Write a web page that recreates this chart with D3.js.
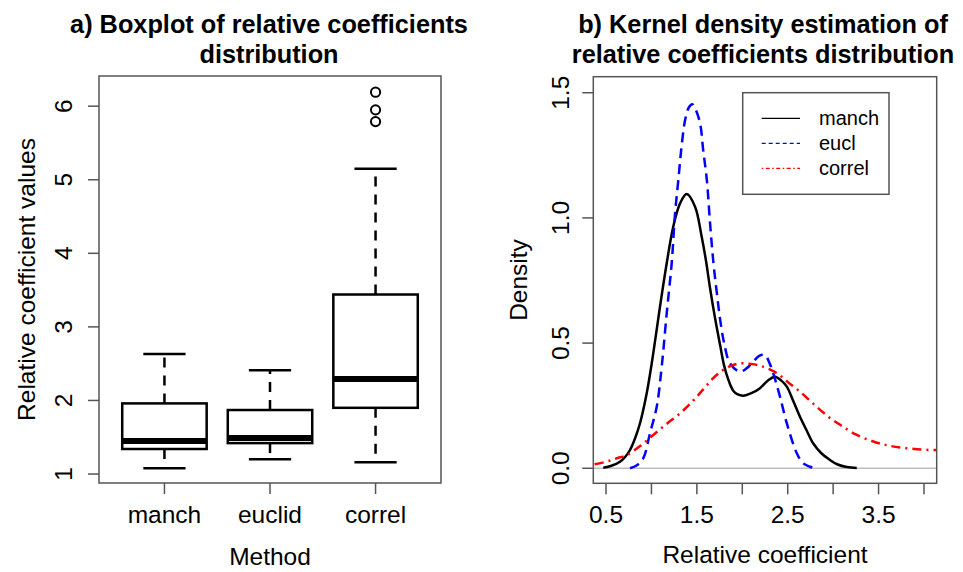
<!DOCTYPE html>
<html><head><meta charset="utf-8">
<script src="https://cdn.jsdelivr.net/npm/d3@7"></script>
<style>body{margin:0;background:#fff}text{font-family:"Liberation Sans",Arial,sans-serif;fill:#000}</style>
</head><body><svg id="c" width="963" height="572"></svg>
<script>
// ---- Panel a data (boxplot stats) ----
const methods = ["manch", "euclid", "correl"];
const lowerWhisker = [1.08, 1.20, 1.16];
const q1 = [1.34, 1.42, 1.90];
const medians = [1.45, 1.49, 2.29];
const q3 = [1.96, 1.87, 3.44];
const upperWhisker = [2.63, 2.41, 5.15];
const outlierMethod = ["correl", "correl", "correl"];
const outlierValue = [6.19, 5.95, 5.79];
const boxYTicks = [1, 2, 3, 4, 5, 6];

// ---- Panel b data (density curves) ----
const densityNames = ["manch", "eucl", "correl"];
const manchX = [0.47,0.56,0.654,0.71,0.764,0.82,0.874,0.948,1.02,1.094,1.168,1.24,1.315,1.388,1.48,1.553,1.60,1.645,1.70,1.757,1.80,1.85,1.90,1.95,2.01,2.10,2.195,2.28,2.36,2.43,2.49,2.56,2.635,2.71,2.78,2.87,2.966,3.05,3.15,3.26];
const manchY = [0.002,0.01,0.026,0.045,0.073,0.12,0.18,0.30,0.459,0.645,0.819,0.965,1.058,1.095,1.045,0.925,0.83,0.72,0.60,0.49,0.41,0.35,0.31,0.295,0.29,0.30,0.32,0.35,0.366,0.35,0.326,0.27,0.206,0.15,0.10,0.06,0.033,0.015,0.005,0.001];
const euclX = [0.764,0.84,0.91,0.984,1.058,1.113,1.168,1.223,1.26,1.296,1.33,1.37,1.41,1.45,1.49,1.536,1.57,1.61,1.645,1.683,1.72,1.757,1.80,1.865,1.975,2.05,2.12,2.19,2.25,2.30,2.34,2.415,2.49,2.60,2.67,2.745,2.80];
const euclY = [0.0,0.012,0.04,0.14,0.246,0.406,0.619,0.819,1.018,1.151,1.28,1.39,1.44,1.454,1.43,1.377,1.27,1.151,0.98,0.818,0.70,0.592,0.50,0.419,0.386,0.40,0.426,0.45,0.452,0.42,0.38,0.286,0.18,0.06,0.02,0.006,0.0];
const correlX = [0.30,0.36,0.50,0.62,0.73,0.88,1.02,1.17,1.316,1.46,1.57,1.68,1.79,1.88,1.975,2.07,2.16,2.27,2.38,2.50,2.635,2.79,2.947,3.08,3.25,3.45,3.62,3.81,4.00,4.146,4.25];
const correlY = [0.012,0.015,0.026,0.040,0.053,0.09,0.133,0.178,0.22,0.27,0.315,0.36,0.393,0.41,0.419,0.418,0.413,0.40,0.38,0.345,0.306,0.255,0.206,0.173,0.135,0.106,0.09,0.08,0.074,0.073,0.073];
const densXTicks = [0.5,1.0,1.5,2.0,2.5,3.0,3.5,4.0];
const densXLabels = [0.5,1.5,2.5,3.5];
const densYTicks = [0, 0.5, 1.0, 1.5];

const svg = d3.select("#c");
const frameCol = "#555";
const fs = 24.5;

// ================= Panel a =================
const A = {l:99, r:441, t:76, b:483};
const xa = d3.scalePoint().domain(methods).range([A.l, A.r]).padding(0.62);
const ya = d3.scaleLinear().domain([0.878, 6.41]).range([A.b, A.t]);
const step = xa.step();
const ga = svg.append("g");

methods.forEach((m, i) => {
  const cx = xa(m), hw = step*0.4, cw = step*0.2;
  ga.append("line").attr("x1",cx).attr("x2",cx).attr("y1",ya(q3[i])).attr("y2",ya(upperWhisker[i]))
    .attr("stroke","#000").attr("stroke-width",2.5).attr("stroke-dasharray","10,8");
  ga.append("line").attr("x1",cx).attr("x2",cx).attr("y1",ya(q1[i])).attr("y2",ya(lowerWhisker[i]))
    .attr("stroke","#000").attr("stroke-width",2.5).attr("stroke-dasharray","10,8");
  [upperWhisker[i], lowerWhisker[i]].forEach(v => {
    ga.append("line").attr("x1",cx-cw).attr("x2",cx+cw).attr("y1",ya(v)).attr("y2",ya(v))
      .attr("stroke","#000").attr("stroke-width",2.5);
  });
  ga.append("rect").attr("x",cx-hw).attr("width",2*hw).attr("y",ya(q3[i])).attr("height",ya(q1[i])-ya(q3[i]))
    .attr("fill","#fff").attr("stroke","#000").attr("stroke-width",2.5);
  ga.append("line").attr("x1",cx-hw).attr("x2",cx+hw).attr("y1",ya(medians[i])).attr("y2",ya(medians[i]))
    .attr("stroke","#000").attr("stroke-width",6);
});
outlierValue.forEach((v, j) => {
  ga.append("circle").attr("cx", xa(outlierMethod[j])).attr("cy", ya(v)).attr("r", 4.6)
    .attr("fill","none").attr("stroke","#000").attr("stroke-width",2);
});
ga.append("rect").attr("x",A.l).attr("y",A.t).attr("width",A.r-A.l).attr("height",A.b-A.t)
  .attr("fill","none").attr("stroke",frameCol).attr("stroke-width",1.5);
boxYTicks.forEach(t => {
  ga.append("line").attr("x1",A.l-11).attr("x2",A.l).attr("y1",ya(t)).attr("y2",ya(t)).attr("stroke",frameCol).attr("stroke-width",1.5);
  ga.append("text").attr("transform",`translate(72,${ya(t)}) rotate(-90)`).attr("text-anchor","middle")
    .attr("font-size",fs).text(t);
});
methods.forEach(m => {
  ga.append("line").attr("x1",xa(m)).attr("x2",xa(m)).attr("y1",A.b).attr("y2",A.b+11).attr("stroke",frameCol).attr("stroke-width",1.5);
  ga.append("text").attr("x",xa(m)).attr("y",523).attr("text-anchor","middle").attr("font-size",fs).text(m);
});
ga.append("text").attr("x",(A.l+A.r)/2).attr("y",565).attr("text-anchor","middle").attr("font-size",fs).text("Method");
ga.append("text").attr("transform",`translate(35,${(A.t+A.b)/2}) rotate(-90)`).attr("text-anchor","middle")
  .attr("font-size",fs).text("Relative coefficient values");
ga.append("text").attr("x",269).attr("y",33).attr("text-anchor","middle").attr("font-size",25.3).attr("font-weight","bold").text("a) Boxplot of relative coefficients");
ga.append("text").attr("x",269).attr("y",63).attr("text-anchor","middle").attr("font-size",25.3).attr("font-weight","bold").text("distribution");

// ================= Panel b =================
const B = {l:593.3, r:936.7, t:76.7, b:483.3};
const xb = d3.scaleLinear().domain([0.36, 4.14]).range([B.l, B.r]);
const yb = d3.scaleLinear().domain([-0.06, 1.564]).range([B.b, B.t]);
const gb = svg.append("g");
svg.append("defs").append("clipPath").attr("id","clipb").append("rect")
  .attr("x",B.l).attr("y",B.t).attr("width",B.r-B.l).attr("height",B.b-B.t);

gb.append("line").attr("x1",B.l).attr("x2",B.r).attr("y1",yb(0)).attr("y2",yb(0)).attr("stroke","#bebebe").attr("stroke-width",1.5);

const line = d3.line().x(d=>xb(d[0])).y(d=>yb(d[1])).curve(d3.curveCatmullRom.alpha(0.5));
const series = [
  {name:"manch", xs:manchX, ys:manchY, color:"#000", dash:null, ldash:null},
  {name:"eucl", xs:euclX, ys:euclY, color:"#0000ff", dash:"10,6", ldash:"4,3"},
  {name:"correl", xs:correlX, ys:correlY, color:"#ff0000", dash:"2,5,9,5", ldash:"1.5,2.5,4,2.5"}
];
const lc = gb.append("g").attr("clip-path","url(#clipb)");
series.forEach(s => {
  lc.append("path").attr("d", line(s.xs.map((x,i)=>[x, s.ys[i]])))
    .attr("fill","none").attr("stroke",s.color).attr("stroke-width",2.5)
    .attr("stroke-dasharray", s.dash);
});
gb.append("rect").attr("x",B.l).attr("y",B.t).attr("width",B.r-B.l).attr("height",B.b-B.t)
  .attr("fill","none").attr("stroke",frameCol).attr("stroke-width",1.5);
densXTicks.forEach(t => {
  gb.append("line").attr("x1",xb(t)).attr("x2",xb(t)).attr("y1",B.b).attr("y2",B.b+11).attr("stroke",frameCol).attr("stroke-width",1.5);
});
densXLabels.forEach(t => {
  gb.append("text").attr("x",xb(t)).attr("y",523).attr("text-anchor","middle").attr("font-size",fs).text(d3.format(".1f")(t));
});
densYTicks.forEach(t => {
  gb.append("line").attr("x1",B.l-11).attr("x2",B.l).attr("y1",yb(t)).attr("y2",yb(t)).attr("stroke",frameCol).attr("stroke-width",1.5);
  gb.append("text").attr("transform",`translate(569,${yb(t)}) rotate(-90)`).attr("text-anchor","middle")
    .attr("font-size",fs).text(d3.format(".1f")(t));
});
gb.append("text").attr("x",(B.l+B.r)/2).attr("y",563).attr("text-anchor","middle").attr("font-size",fs).text("Relative coefficient");
gb.append("text").attr("transform",`translate(527,${(B.t+B.b)/2}) rotate(-90)`).attr("text-anchor","middle")
  .attr("font-size",fs).text("Density");
gb.append("text").attr("x",763).attr("y",33).attr("text-anchor","middle").attr("font-size",25.3).attr("font-weight","bold").text("b) Kernel density estimation of");
gb.append("text").attr("x",763).attr("y",63).attr("text-anchor","middle").attr("font-size",25.3).attr("font-weight","bold").text("relative coefficients distribution");

const lg = gb.append("g");
lg.append("rect").attr("x",742.7).attr("y",92.7).attr("width",146.3).attr("height",101.6)
  .attr("fill","#fff").attr("stroke",frameCol).attr("stroke-width",1.5);
series.forEach((s,i) => {
  const yy = 118.3 + i*25;
  lg.append("line").attr("x1",761.7).attr("x2",800).attr("y1",yy).attr("y2",yy)
    .attr("stroke",s.color).attr("stroke-width",1.2).attr("stroke-dasharray",s.ldash);
  lg.append("text").attr("x",819).attr("y",yy+7).attr("font-size",20).text(s.name);
});
</script></body></html>
